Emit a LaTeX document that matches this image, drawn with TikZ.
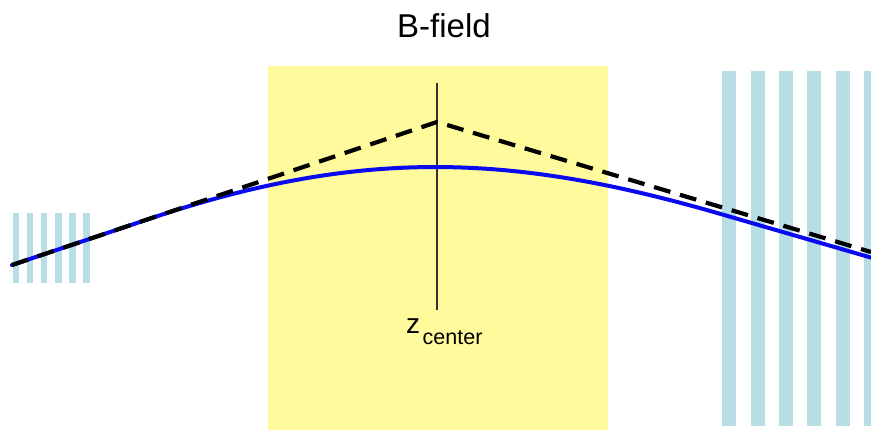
\documentclass[tikz,border=0pt]{standalone}
\usepackage{fontspec}
\setmainfont{Liberation Sans}
\begin{document}
\begin{tikzpicture}[x=1pt,y=-1pt,
  stripe/.style={fill=stripeblue,draw=none},
  field/.style={fill=fieldyellow,draw=none},
  track/.style={draw=trackblue,line width=4pt,line cap=round},
  approx/.style={draw=black,line width=4.2pt,dash pattern=on 17pt off 10pt},
  axisline/.style={draw=black!80,line width=1.4pt},
  lbl/.style={inner sep=0pt,text=black}]
\definecolor{stripeblue}{RGB}{182,222,228}
\definecolor{fieldyellow}{RGB}{255,250,155}
\definecolor{trackblue}{RGB}{10,10,240}
\useasboundingbox (0,0) rectangle (871,430);
% magnetic field region
\path[field] (268,66) rectangle (608,430);
% left detector planes
\foreach \i in {0,...,5} {
  \path[stripe] ({12.7+14.1*\i},213) rectangle ++(6.5,70);
}
% right detector planes
\foreach \i in {0,...,5} {
  \path[stripe] ({722.3+28.35*\i},71) rectangle ++(14,355);
}
% coordinates
\coordinate (start) at (12,265);
\coordinate (apex) at (437,122);
\coordinate (dend) at (871,252);
\coordinate (b1) at (150,218.6);
\coordinate (b2) at (720,213.8);
\coordinate (bend) at (871,257.6);
\coordinate (ztop) at (437,83);
\coordinate (zbot) at (437,310);
% center line
\draw[axisline] (ztop) -- (zbot);
% real track
\draw[track] (start) -- (b1) .. controls (362,147.4) and (513.3,153.9) .. (b2) -- (bend);
% straight-line approximation
\draw[approx] (start) -- (apex) -- (dend);
% labels
\node[lbl,anchor=base] (bfield) at (444,37.7) {\fontsize{33}{36}\selectfont B-field};
\node[lbl,anchor=base west] (zc) at (406,334) {\fontsize{28}{30}\selectfont z};
\node[lbl,anchor=base west] (zsub) at (422.5,345) {\fontsize{21.5}{24}\selectfont center};
\end{tikzpicture}
\end{document}
